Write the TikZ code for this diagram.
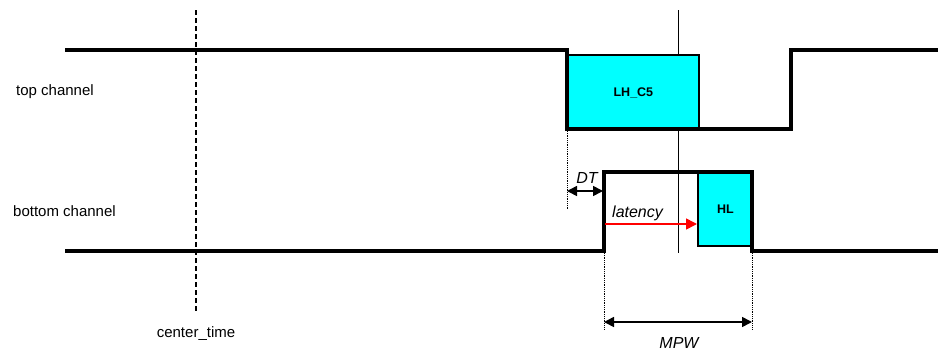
\documentclass[tikz,border=0pt]{standalone}
\usepackage{fontspec}
\setmainfont{Liberation Sans}
\usetikzlibrary{arrows.meta}
\definecolor{boxcyan}{RGB}{0,255,255}
\begin{document}
\begin{tikzpicture}[x=1pt,y=-1pt,
  wave/.style={line width=3.3pt, line join=miter},
  cbox/.style={draw=black, line width=1.8pt, fill=boxcyan, inner sep=0pt, anchor=north west},
  lbl/.style={font=\fontsize{15}{17}\selectfont, inner sep=0pt},
  ital/.style={font=\fontsize{16}{18}\selectfont\itshape, inner sep=0pt},
  boxtxt/.style={font=\fontsize{12.5}{14}\selectfont\bfseries, inner sep=0pt},
  dotline/.style={densely dotted, line width=0.8pt},
  dimarrow/.style={line width=1.6pt, {Triangle[length=10pt,width=10pt]}-{Triangle[length=10pt,width=10pt]}}
]
\useasboundingbox (0,0) rectangle (938,351);
% reference vertical line
\coordinate (vt) at (678,10);
\coordinate (vb) at (678,253);
\draw[line width=1pt] (vt) -- (vb);
% center time dashed
\coordinate (ct) at (196,10);
\coordinate (cb) at (196,312);
\draw[line width=1.3pt, dash pattern=on 5pt off 3pt] (ct) -- (cb);
\node[lbl] (center) at (196,334) {center\_time};
% boxes
\node[cbox, minimum width=131pt, minimum height=75pt] (lh) at (567,54) {};
\node[boxtxt] at (lh.center) {LH\_C5};
\node[cbox, minimum width=55pt, minimum height=73pt] (hl) at (697,172) {};
\node[boxtxt] at (hl.center) {HL};
% waveforms
\draw[wave] (65,50) -- (567,50) -- (567,129) -- (791,129) -- (791,50) -- (940,50);
\draw[wave] (65,251) -- (604,251) -- (604,172) -- (752,172) -- (752,251) -- (940,251);
% labels
\node[lbl, anchor=west] (top) at (16,92) {top channel};
\node[lbl, anchor=west] (bot) at (13,211) {bottom channel};
% DT
\coordinate (dta) at (567,131);
\coordinate (dtb) at (567,209);
\draw[dotline] (dta) -- (dtb);
\coordinate (dt1) at (567,191);
\coordinate (dt2) at (603,191);
\draw[dimarrow] (dt1) -- (dt2);
\node[ital] (dtl) at (587,178) {DT};
% latency
\coordinate (la) at (605,224);
\coordinate (lb) at (697,224);
\draw[red, line width=1.6pt, -{Triangle[length=11pt,width=11pt]}] (la) -- (lb);
\node[ital, anchor=west] (lat) at (612,213) {latency};
% MPW
\coordinate (m1t) at (604,253);
\coordinate (m1b) at (604,330);
\coordinate (m2t) at (752,253);
\coordinate (m2b) at (752,330);
\draw[dotline] (m1t) -- (m1b);
\draw[dotline] (m2t) -- (m2b);
\coordinate (mp1) at (604,322);
\coordinate (mp2) at (752,322);
\draw[dimarrow] (mp1) -- (mp2);
\node[ital] (mpw) at (679,343) {MPW};
\end{tikzpicture}
\end{document}
